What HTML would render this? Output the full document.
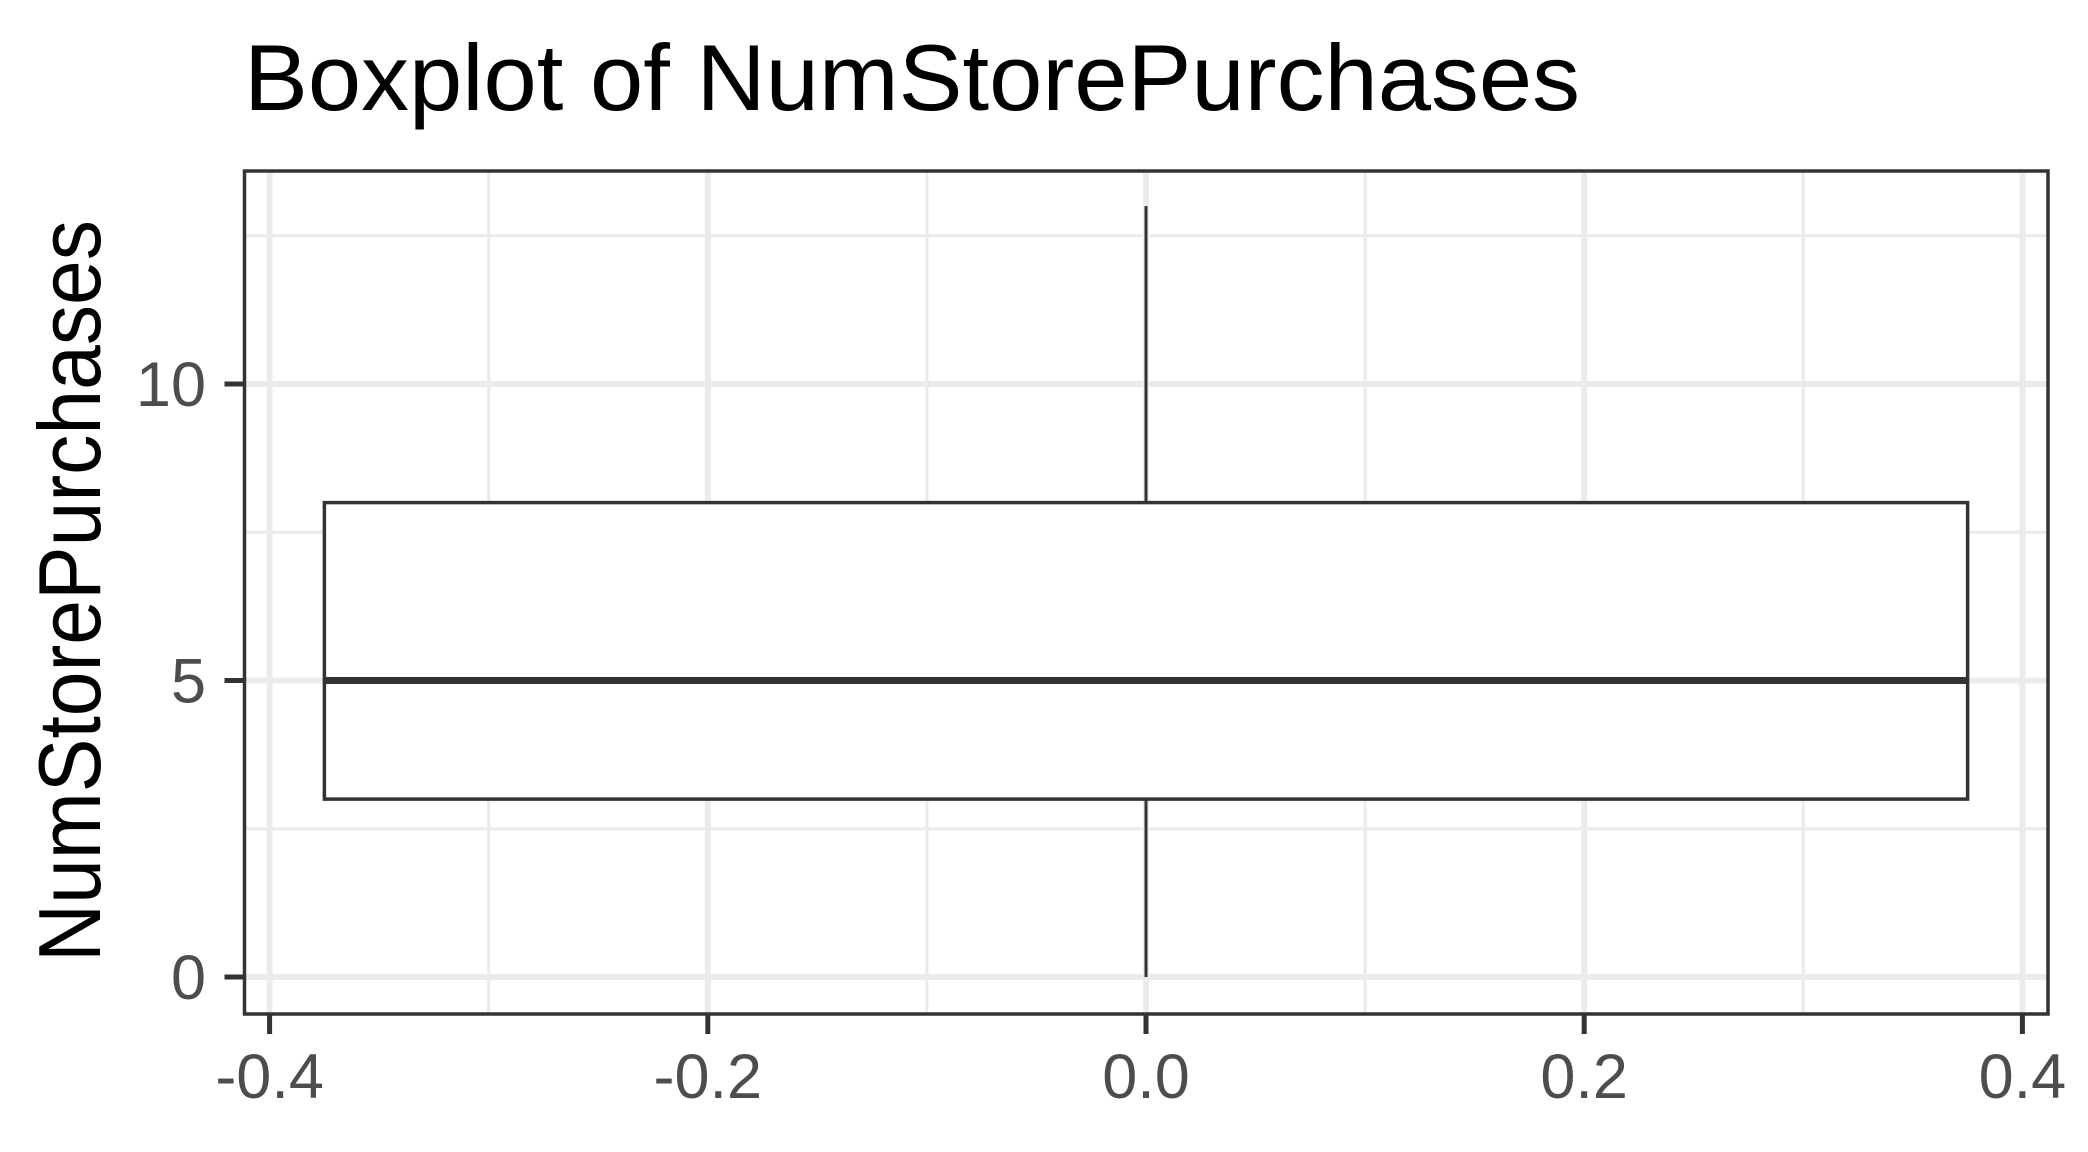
<!DOCTYPE html>
<html><head><meta charset="utf-8"><style>
html,body{margin:0;padding:0;background:#fff;}
svg{display:block;font-family:"Liberation Sans",Arial,sans-serif;}
</style></head><body>
<svg id="chart" width="2088" height="1152" viewBox="0 0 2088 1152">
<rect width="2088" height="1152" fill="#fff"/>
<text x="244" y="110" font-size="94" fill="#000" textLength="1336" lengthAdjust="spacingAndGlyphs">Boxplot of NumStorePurchases</text>
<text transform="translate(100,591) rotate(-90)" text-anchor="middle" font-size="88" fill="#000" textLength="742" lengthAdjust="spacingAndGlyphs">NumStorePurchases</text>
<g id="grid"></g>
<g id="marks"></g>
<rect x="244.5" y="171" width="1803.5" height="843" fill="none" stroke="#333" stroke-width="3.5"/>
<g id="axes"></g>
</svg>
<script>
const xTicks = [-0.4, -0.2, 0.0, 0.2, 0.4];
const xTickLabels = ["-0.4", "-0.2", "0.0", "0.2", "0.4"];
const xMinor = [-0.3, -0.1, 0.1, 0.3];
const yTicks = [0, 5, 10];
const yTickLabels = ["0", "5", "10"];
const yMinor = [2.5, 7.5, 12.5];
const boxStats = [0, 3, 5, 8, 13]; // min, q1, median, q3, max
const boxExtent = [-0.375, 0.375];

const NS = "http://www.w3.org/2000/svg";
function xS(v){ return 1146 + v * 2191; }
function yS(v){ return 977 - v * 59.3; }
const L = 244.5, R = 2048, T = 171, B = 1014;
function mk(parent, tag, attrs){
  const el = document.createElementNS(NS, tag);
  for (const k in attrs) el.setAttribute(k, attrs[k]);
  parent.appendChild(el);
  return el;
}
const grid = document.getElementById('grid');
xMinor.forEach(v => {
  const el = mk(grid, 'line', {x1:xS(v), x2:xS(v), y1:T, y2:B, stroke:'#ebebeb', 'stroke-width':3});
  
  
});
yMinor.forEach(v => {
  const el = mk(grid, 'line', {x1:L, x2:R, y1:yS(v), y2:yS(v), stroke:'#ebebeb', 'stroke-width':3});
  
  
});
xTicks.forEach(v => {
  const el = mk(grid, 'line', {x1:xS(v), x2:xS(v), y1:T, y2:B, stroke:'#ebebeb', 'stroke-width':6});
  
  
});
yTicks.forEach(v => {
  const el = mk(grid, 'line', {x1:L, x2:R, y1:yS(v), y2:yS(v), stroke:'#ebebeb', 'stroke-width':6});
  
  
});
const marks = document.getElementById('marks');
const xc = xS(0);
const w1 = mk(marks, 'line', {x1:xc, x2:xc, y1:yS(boxStats[3]), y2:yS(boxStats[4]), stroke:'#333', 'stroke-width':3});


const w2 = mk(marks, 'line', {x1:xc, x2:xc, y1:yS(boxStats[0]), y2:yS(boxStats[1]), stroke:'#333', 'stroke-width':3});


const bx = mk(marks, 'rect', {x:xS(boxExtent[0]), y:yS(boxStats[3]), width:xS(boxExtent[1])-xS(boxExtent[0]), height:yS(boxStats[1])-yS(boxStats[3]), fill:'#fff', stroke:'#333', 'stroke-width':3.5});


const md = mk(marks, 'line', {x1:xS(boxExtent[0]), x2:xS(boxExtent[1]), y1:yS(boxStats[2]), y2:yS(boxStats[2]), stroke:'#333', 'stroke-width':7});


const axes = document.getElementById('axes');
yTicks.forEach((v, i) => {
  const t = mk(axes, 'line', {x1:L-20, x2:L, y1:yS(v), y2:yS(v), stroke:'#333', 'stroke-width':5});
  
  
  const tx = mk(axes, 'text', {x:206, y:yS(v)+22, 'text-anchor':'end', 'font-size':63, fill:'#4d4d4d'});
  tx.textContent = yTickLabels[i];
  
  
});
xTicks.forEach((v, i) => {
  const t = mk(axes, 'line', {x1:xS(v), x2:xS(v), y1:B, y2:B+20, stroke:'#333', 'stroke-width':5});
  
  
  const tx = mk(axes, 'text', {x:xS(v), y:1098, 'text-anchor':'middle', 'font-size':63, fill:'#4d4d4d'});
  tx.textContent = xTickLabels[i];
  
  
});
</script>
</body></html>
